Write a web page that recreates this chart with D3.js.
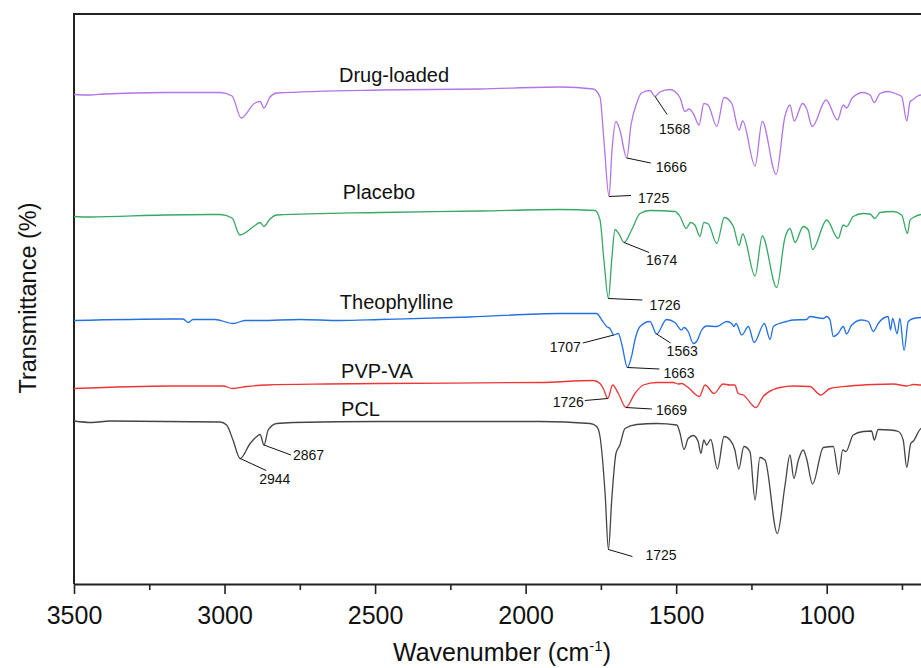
<!DOCTYPE html>
<html>
<head>
<meta charset="utf-8">
<script src="https://cdn.jsdelivr.net/npm/d3@7"></script>
<style>
	body { margin: 0; background: #fff; }
	svg { display: block; font-family: 'Liberation Sans', Arial, sans-serif; }
</style>
</head>
<body>
<div class="graphic__chart"></div>
<script>
// spectra, [wavenumber, transmittance] (stacked offsets)
const drugLoaded = [[3500,97.9],[3447,97.8],[3400,98.0],[3200,98.3],[3015,98.3],[2975,97.6],[2945,93.2],[2899,96.2],[2882,96.5],[2869,95.2],[2849,97.4],[2826,98.2],[2484,98.8],[2152,99.0],[1886,99.4],[1776,99.0],[1753,97.4],[1740,88.8],[1723,77.5],[1713,86.8],[1700,92.5],[1687,90.8],[1664,85.2],[1650,91.8],[1631,96.2],[1615,98.2],[1587,98.7],[1570,97.5],[1554,98.4],[1521,98.9],[1504,98.5],[1487,97.2],[1471,94.5],[1457,95.0],[1444,94.2],[1424,91.8],[1408,96.1],[1394,95.8],[1365,91.5],[1341,97.3],[1316,96.2],[1291,90.8],[1279,92.6],[1238,83.6],[1214,92.5],[1168,81.9],[1139,93.5],[1122,95.8],[1108,92.6],[1080,96.1],[1067,95.1],[1048,91.5],[1002,96.8],[964,92.8],[945,95.8],[934,95.2],[914,97.3],[879,98.3],[856,97.8],[842,96.3],[823,98.1],[796,98.5],[773,98.1],[751,97.5],[734,92.6],[723,96.5],[715,96.8],[701,97.5],[687,97.8],[660,97.8]]
const placebo = [[3500,73.5],[3447,73.4],[3200,73.8],[3015,73.9],[2975,73.2],[2949,69.8],[2899,71.7],[2882,72.3],[2869,71.5],[2849,73.0],[2826,73.8],[2484,74.3],[2152,74.6],[1886,74.9],[1770,74.7],[1753,72.8],[1740,64.8],[1725,57.1],[1714,64.8],[1703,70.9],[1690,70.0],[1673,68.3],[1648,70.8],[1620,74.1],[1587,74.7],[1504,74.5],[1487,73.5],[1467,71.1],[1452,72.3],[1438,71.8],[1421,69.5],[1408,72.3],[1393,72.0],[1365,68.1],[1340,73.3],[1310,71.5],[1291,67.7],[1279,70.0],[1238,61.6],[1214,69.6],[1166,59.3],[1139,69.1],[1122,71.1],[1105,68.3],[1078,71.5],[1061,70.8],[1047,66.9],[1000,72.8],[962,69.1],[945,71.8],[934,71.5],[912,73.5],[879,74.1],[856,74.0],[840,73.1],[823,74.3],[779,74.5],[751,73.8],[732,70.1],[723,72.8],[712,73.3],[687,73.9],[660,74.0]]
const theophylline = [[3500,52.7],[3181,53.0],[3138,53.0],[3120,52.3],[3105,52.9],[3032,52.9],[2971,52.1],[2932,52.7],[2882,52.7],[2749,52.9],[2617,52.7],[2484,52.9],[2185,53.4],[1886,54.1],[1764,54.1],[1747,52.8],[1731,51.5],[1720,51.1],[1707,49.8],[1692,50.1],[1680,47.8],[1662,43.3],[1647,45.8],[1637,48.8],[1620,51.5],[1587,52.5],[1565,50.0],[1532,52.9],[1504,52.3],[1482,50.8],[1474,51.3],[1460,50.5],[1443,48.1],[1432,48.5],[1415,50.8],[1399,51.6],[1365,51.5],[1332,52.5],[1316,52.1],[1308,51.5],[1301,52.1],[1282,49.8],[1260,51.5],[1241,48.3],[1207,52.1],[1188,48.9],[1177,51.5],[1133,52.5],[1111,52.8],[1067,52.9],[1056,53.5],[1011,53.1],[1000,53.5],[989,52.8],[978,49.5],[962,50.1],[945,51.5],[934,50.0],[917,51.8],[884,52.8],[862,52.5],[845,50.5],[829,52.1],[796,53.5],[788,50.8],[781,53.1],[766,50.0],[757,53.1],[743,46.7],[729,52.5],[712,53.1],[687,53.3],[660,53.3]]
const pvpVa = [[3500,39.1],[3181,39.6],[3005,39.6],[2972,39.1],[2926,39.5],[2860,39.8],[2661,40.0],[2484,40.1],[1952,40.3],[1775,40.7],[1753,40.1],[1742,39.1],[1727,37.1],[1711,39.8],[1692,38.1],[1667,35.3],[1637,38.1],[1609,39.8],[1565,40.3],[1510,40.3],[1493,40.0],[1482,40.1],[1471,39.8],[1460,39.3],[1423,37.5],[1404,39.8],[1374,38.1],[1344,40.0],[1321,39.8],[1305,39.8],[1294,38.1],[1277,37.8],[1235,35.3],[1211,37.5],[1177,38.9],[1155,39.3],[1111,39.6],[1056,39.5],[1020,37.8],[989,39.1],[923,39.6],[845,39.9],[779,40.0],[734,39.6],[712,39.9],[687,39.8],[660,39.8]]
const pcl = [[3500,32.6],[3441,32.3],[3380,32.6],[3015,32.4],[2993,31.8],[2972,28.8],[2948,25.1],[2915,28.1],[2893,29.5],[2882,29.9],[2869,27.8],[2855,30.8],[2827,32.1],[2772,32.3],[2484,32.5],[1952,32.5],[1786,32.1],[1764,31.5],[1753,29.5],[1736,18.1],[1725,6.9],[1714,16.8],[1700,26.1],[1687,27.8],[1670,31.1],[1631,31.9],[1565,32.1],[1498,31.8],[1487,30.1],[1474,26.9],[1460,29.1],[1443,29.7],[1427,28.5],[1418,26.1],[1408,28.8],[1399,27.8],[1385,28.9],[1363,23.0],[1341,29.5],[1321,28.8],[1305,26.8],[1292,23.0],[1275,27.5],[1255,26.5],[1238,16.8],[1222,25.3],[1205,24.8],[1164,10.1],[1139,19.5],[1122,25.8],[1109,21.1],[1094,24.8],[1078,26.8],[1067,25.1],[1047,20.0],[1011,27.3],[978,27.5],[960,21.9],[947,26.8],[936,26.5],[912,29.8],[879,30.5],[851,30.6],[842,28.8],[829,30.9],[790,30.8],[762,30.5],[746,28.8],[734,23.3],[721,28.1],[712,28.6],[687,31.1],[660,31.5]]

const seriesNames = ['Drug-loaded', 'Placebo', 'Theophylline', 'PVP-VA', 'PCL']
const seriesData = [drugLoaded, placebo, theophylline, pvpVa, pcl]

const majorTicks = [3500, 3000, 2500, 2000, 1500, 1000]
const minorTicks = [3250, 2750, 2250, 1750, 1250, 750]

// peak labels: series index, wavenumber, text
const peakSeries = [0, 0, 0, 1, 1, 2, 2, 2, 3, 3, 4, 4, 4]
const peakWavenumbers = [1570, 1664, 1723, 1673, 1725, 1707, 1565, 1662, 1727, 1667, 1725, 2948, 2869]
const peakLabels = ['1568', '1666', '1725', '1674', '1726', '1707', '1563', '1663', '1726', '1669', '1725', '2944', '2867']

const colors = ['#b274e6', '#35a862', '#2270e2', '#ee3535', '#444444']

// leader line end / text offsets (px) from each peak
const leader = [
	{ lx: 12, ly: 18, tx: 4, ty: 37, anchor: 'start' },
	{ lx: 24, ly: 5, tx: 29, ty: 14, anchor: 'start' },
	{ lx: 22, ly: -1, tx: 29, ty: 6, anchor: 'start' },
	{ lx: 25, ly: 10, tx: 22, ty: 22, anchor: 'start' },
	{ lx: 34, ly: 1.5, tx: 41, ty: 11, anchor: 'start' },
	{ lx: -31, ly: 8, tx: -33, ty: 17, anchor: 'end' },
	{ lx: 14, ly: 9, tx: 10, ty: 22, anchor: 'start' },
	{ lx: 32, ly: 1.5, tx: 36, ty: 10, anchor: 'start' },
	{ lx: -23, ly: 2, tx: -24, ty: 8, anchor: 'end' },
	{ lx: 26, ly: 1.5, tx: 30, ty: 7.5, anchor: 'start' },
	{ lx: 24, ly: 7, tx: 37, ty: 10, anchor: 'start' },
	{ lx: 26, ly: 12, tx: 19, ty: 25, anchor: 'start' },
	{ lx: 27, ly: 10, tx: 29, ty: 15, anchor: 'start' }
]
// series name label anchor (wavenumber, level)
const nameAt = [[2620, 100.5], [2607, 77], [2617, 55], [2613, 41.3], [2613, 33.6]]

const W = 921
const H = 668
const plot = { left: 74, top: 14, bottom: 584 }

const x = d3.scaleLinear().domain([3500, 400]).range([plot.left, plot.left + 3100 * 0.30108])
const y = d3.scaleLinear().domain([0, 114]).range([plot.bottom, plot.top])

const svg = d3.select('.graphic__chart').append('svg')
	.attr('width', W)
	.attr('height', H)

// axes
const axisG = svg.append('g')
	.attr('class', 'axis axis--x')
	.attr('transform', `translate(0,${plot.bottom})`)
	.call(d3.axisBottom(x).tickValues(majorTicks).tickFormat(d3.format('d')).tickSize(10).tickSizeOuter(0).tickPadding(12))

axisG.select('.domain').attr('stroke', '#222').attr('stroke-width', 2)
axisG.selectAll('.tick line').attr('stroke', '#222').attr('stroke-width', 1.6)
axisG.selectAll('.tick text')
	.attr('fill', '#111')
	.style('font-size', '25px')
	.style('font-family', "'Liberation Sans', Arial, sans-serif")

const minorG = svg.append('g')
	.attr('transform', `translate(0,${plot.bottom})`)
	.call(d3.axisBottom(x).tickValues(minorTicks).tickSize(6).tickFormat(''))
minorG.select('.domain').remove()
minorG.selectAll('.tick line').attr('stroke', '#222').attr('stroke-width', 1.6)

// frame: left and top
svg.append('line')
	.attr('x1', x(3500)).attr('x2', x(3500))
	.attr('y1', plot.top).attr('y2', plot.bottom)
	.attr('stroke', '#222').attr('stroke-width', 2)
svg.append('line')
	.attr('x1', x(3500) - 1).attr('x2', W)
	.attr('y1', plot.top).attr('y2', plot.top)
	.attr('stroke', '#222').attr('stroke-width', 2)

// spectra
const line = d3.line()
	.x(d => x(d[0]))
	.y(d => y(d[1]))
	.curve(d3.curveMonotoneX)

svg.append('g').attr('class', 'g-spectra')
	.selectAll('path')
	.data(seriesData)
	.enter().append('path')
		.attr('d', line)
		.attr('fill', 'none')
		.attr('stroke', (d, i) => colors[i])
		.attr('stroke-width', 1.3)

// series names
svg.append('g').attr('class', 'names')
	.selectAll('text')
	.data(seriesNames)
	.enter().append('text')
		.attr('x', (d, i) => x(nameAt[i][0]))
		.attr('y', (d, i) => y(nameAt[i][1]))
		.attr('fill', '#111')
		.style('font-size', '20px')
		.text(d => d)

// peak annotations
const peaks = peakLabels.map((label, i) => {
	const data = seriesData[peakSeries[i]]
	const pt = data.find(d => d[0] === peakWavenumbers[i])
	return { label, px: x(pt[0]), py: y(pt[1]), off: leader[i] }
})

const peak = svg.append('g').attr('class', 'peaks')
	.selectAll('.peak')
	.data(peaks)
	.enter().append('g')
		.attr('class', 'peak')
		.attr('transform', d => `translate(${d.px},${d.py})`)

peak.append('line')
	.attr('x1', 0).attr('y1', 0)
	.attr('x2', d => d.off.lx).attr('y2', d => d.off.ly)
	.attr('stroke', '#111')
	.attr('stroke-width', 1)

peak.append('text')
	.attr('x', d => d.off.tx)
	.attr('y', d => d.off.ty)
	.attr('text-anchor', d => d.off.anchor)
	.attr('fill', '#111')
	.style('font-size', '14px')
	.text(d => d.label)

// axis titles
const xTitle = svg.append('text')
	.attr('x', 502)
	.attr('y', 661)
	.attr('text-anchor', 'middle')
	.attr('fill', '#111')
	.style('font-size', '25px')
xTitle.append('tspan').text('Wavenumber (cm')
xTitle.append('tspan').attr('dy', -10).style('font-size', '15px').text('-1')
xTitle.append('tspan').attr('dy', 10).text(')')

svg.append('text')
	.attr('transform', 'translate(36,298) rotate(-90)')
	.attr('text-anchor', 'middle')
	.attr('fill', '#111')
	.style('font-size', '23.5px')
	.text('Transmittance (%)')
</script>
</body>
</html>
